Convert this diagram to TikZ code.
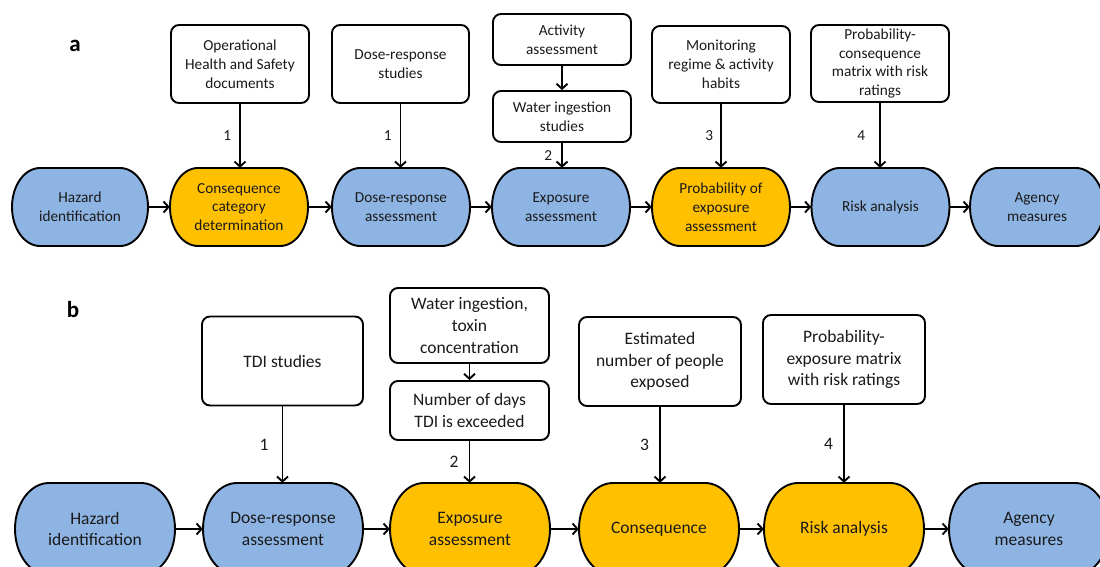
\documentclass[tikz,border=0pt]{standalone}
\usepackage{fontspec}
\setmainfont{Carlito}
\usetikzlibrary{arrows.meta}
\definecolor{sblue}{HTML}{8EB4E3}
\definecolor{sorange}{HTML}{FFC000}
\definecolor{txt}{HTML}{1A1A1A}
\tikzset{
  box/.style={draw, line width=1.9pt, rounded corners=8pt, align=center, inner sep=0pt, fill=white, text=txt},
  boxA/.style={box, font=\fontsize{15.3}{18.8}\selectfont},
  boxB/.style={box, font=\fontsize{17.5}{21.6}\selectfont},
  stadtext/.style={align=center, inner sep=0pt, text=txt},
  arr/.style={line width=1.9pt, -{Straight Barb[length=5pt,width=11pt,line width=1.9pt]}},
  numA/.style={inner sep=0pt, text=txt, font=\fontsize{15.3}{17}\selectfont},
  numB/.style={inner sep=0pt, text=txt, font=\fontsize{17.5}{19}\selectfont},
  panel/.style={inner sep=0pt, font=\fontsize{23}{26}\selectfont\bfseries},
}
\newcommand{\stad}[9]{%
  \draw[line width=1.9pt, fill=#7]
    ({#2-#4/2+#6},{#3-#5/2}) -- ({#2+#4/2-#6},{#3-#5/2})
    .. controls ({#2+#4/2-#6+0.5523*#6},{#3-#5/2}) and ({#2+#4/2},{#3-0.5523*#5/2}) .. ({#2+#4/2},{#3})
    .. controls ({#2+#4/2},{#3+0.5523*#5/2}) and ({#2+#4/2-#6+0.5523*#6},{#3+#5/2}) .. ({#2+#4/2-#6},{#3+#5/2})
    -- ({#2-#4/2+#6},{#3+#5/2})
    .. controls ({#2-#4/2+#6-0.5523*#6},{#3+#5/2}) and ({#2-#4/2},{#3+0.5523*#5/2}) .. ({#2-#4/2},{#3})
    .. controls ({#2-#4/2},{#3-0.5523*#5/2}) and ({#2-#4/2+#6-0.5523*#6},{#3-#5/2}) .. ({#2-#4/2+#6},{#3-#5/2})
    -- cycle;
  \node[stadtext, minimum width=#4pt, minimum height=#5pt, font=#8] (#1) at (#2,#3) {#9};
}
\begin{document}
\begin{tikzpicture}[x=1pt,y=-1pt]
\useasboundingbox (0,0) rectangle (1100,567);
\def\fA{\fontsize{15.3}{18.8}\selectfont}
\def\fB{\fontsize{17.5}{21.2}\selectfont}

% panel labels
\node[panel] (la) at (75,46) {a};
\node[panel] (lb) at (73,310) {b};

% ---------- row a ----------
\stad{a1}{80}{207}{136}{78}{28}{sblue}{\fA}{Hazard\\identification}
\stad{a2}{239}{207}{138}{78}{28}{sorange}{\fA}{Consequence\\category\\determination}
\stad{a3}{401}{207}{138}{78}{28}{sblue}{\fA}{Dose-response\\assessment}
\stad{a4}{561}{207}{138}{78}{28}{sblue}{\fA}{Exposure\\assessment}
\stad{a5}{721}{207}{138}{78}{28}{sorange}{\fA}{Probability of\\exposure\\assessment}
\stad{a6}{880.5}{207}{138}{78}{28}{sblue}{\fA}{Risk analysis}
\stad{a7}{1037}{207}{134}{78}{28}{sblue}{\fA}{Agency\\measures}

\node[boxA, minimum width=138pt, minimum height=78pt] (ab1) at (240,64) {Operational\\Health and Safety\\documents};
\node[boxA, minimum width=137pt, minimum height=78pt] (ab2) at (400.5,64) {Dose-response\\studies};
\node[boxA, minimum width=138pt, minimum height=51pt] (ab3) at (562,39.5) {Activity\\assessment};
\node[boxA, minimum width=138pt, minimum height=51pt] (ab4) at (562,116.5) {Water ingestion\\studies};
\node[boxA, minimum width=138pt, minimum height=77pt] (ab5) at (721,64.5) {Monitoring\\regime \& activity\\habits};
\node[boxA, minimum width=138pt, minimum height=77pt] (ab6) at (880,63.5) {Probability-\\consequence\\matrix with risk\\ratings};

\draw[arr] (a1.east) -- (a2.west);
\draw[arr] (a2.east) -- (a3.west);
\draw[arr] (a3.east) -- (a4.west);
\draw[arr] (a4.east) -- (a5.west);
\draw[arr] (a5.east) -- (a6.west);
\draw[arr] (a6.east) -- (a7.west);

\draw[arr] (ab1.south) -- node[numA, left=8pt] (na1) {1} (ab1.south |- a2.north);
\draw[arr] (ab2.south) -- node[numA, left=8pt] (na2) {1} (ab2.south |- a3.north);
\draw[arr] (ab3.south) -- (ab4.north);
\draw[arr] (ab4.south) -- node[numA, left=9pt] (na3) {2} (ab4.south |- a4.north);
\draw[arr] (ab5.south) -- node[numA, left=7pt] (na4) {3} (ab5.south |- a5.north);
\draw[arr] (ab6.south) -- node[numA, left=14pt] (na5) {4} (ab6.south |- a6.north);

% ---------- row b ----------
\stad{b1}{95}{529}{160}{92}{34}{sblue}{\fB}{Hazard\\identification}
\stad{b2}{283}{529}{160}{92}{34}{sblue}{\fB}{Dose-response\\assessment}
\stad{b3}{470}{529}{160}{92}{34}{sorange}{\fB}{Exposure\\assessment}
\stad{b4}{659}{529}{160}{92}{34}{sorange}{\fB}{Consequence}
\stad{b5}{844}{529}{160}{92}{34}{sorange}{\fB}{Risk analysis}
\stad{b6}{1029}{529}{160}{92}{34}{sblue}{\fB}{Agency\\measures}

\node[boxB, minimum width=161pt, minimum height=89pt] (bb1) at (282.5,361) {TDI studies};
\node[boxB, minimum width=159pt, minimum height=75pt] (bb2) at (469.5,325.5) {Water ingestion,\\toxin\\concentration};
\node[boxB, minimum width=159pt, minimum height=59pt] (bb3) at (469.5,410.5) {Number of days\\TDI is exceeded};
\node[boxB, minimum width=162pt, minimum height=89pt] (bb4) at (660,361.5) {Estimated\\number of people\\exposed};
\node[boxB, minimum width=162pt, minimum height=89pt] (bb5) at (844,359.5) {Probability-\\exposure matrix\\with risk ratings};

\draw[arr] (b1.east) -- (b2.west);
\draw[arr] (b2.east) -- (b3.west);
\draw[arr] (b3.east) -- (b4.west);
\draw[arr] (b4.east) -- (b5.west);
\draw[arr] (b5.east) -- (b6.west);

\draw[arr] (bb1.south) -- node[numB, left=13pt] (nb1) {1} (bb1.south |- b2.north);
\draw[arr] (bb2.south) -- (bb3.north);
\draw[arr] (bb3.south) -- node[numB, left=10pt] (nb2) {2} (bb3.south |- b3.north);
\draw[arr] (bb4.south) -- node[numB, left=10pt] (nb3) {3} (bb4.south |- b4.north);
\draw[arr] (bb5.south) -- node[numB, left=10pt] (nb4) {4} (bb5.south |- b5.north);
\end{tikzpicture}
\end{document}
